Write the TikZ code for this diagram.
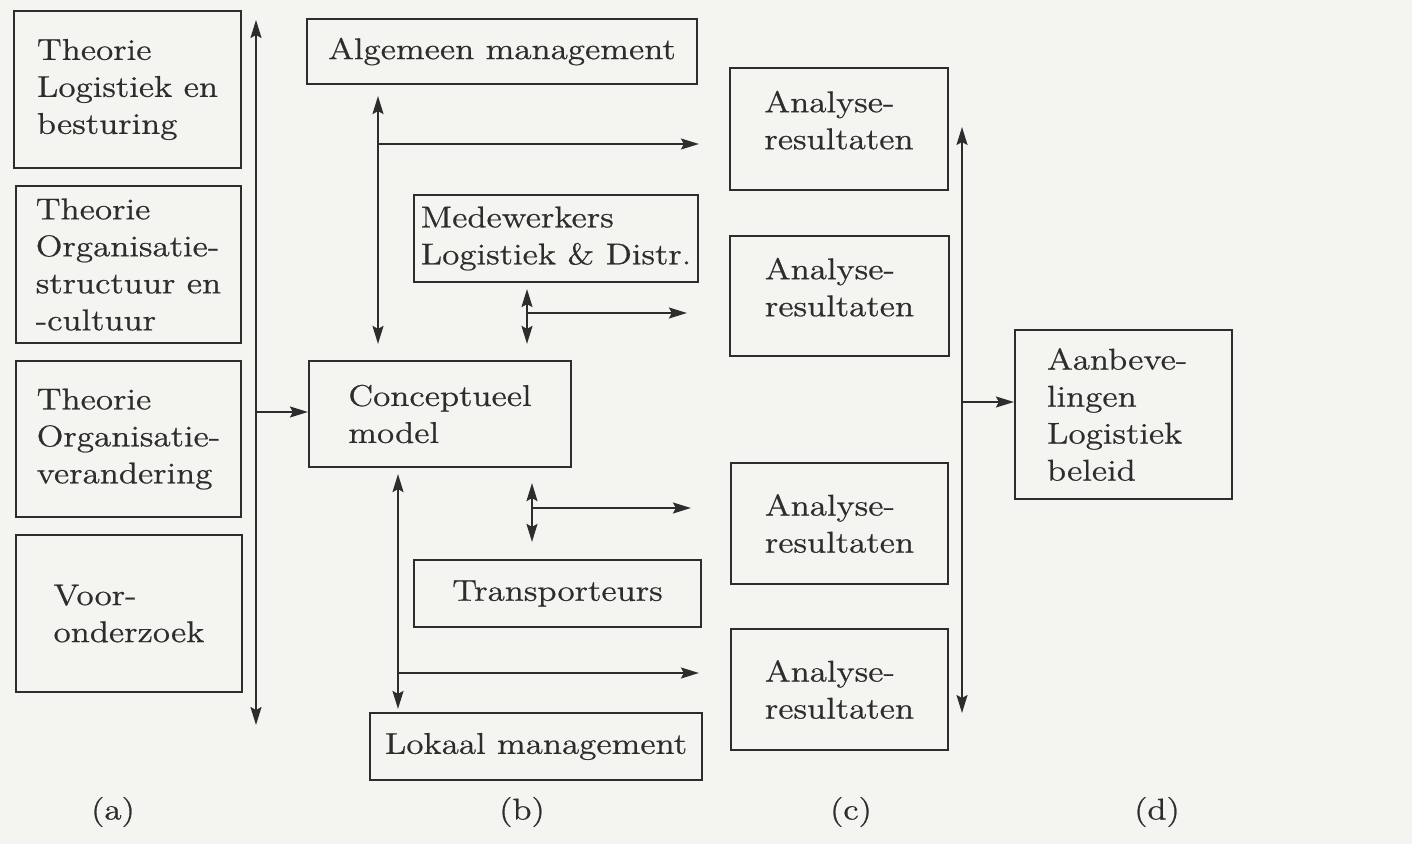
\documentclass[tikz,border=0pt]{standalone}
\usepackage{fontspec}
\newfontfamily\diagfont{lmroman12-regular.otf}[FakeStretch=1.17,FakeBold=0.7]
\usetikzlibrary{arrows.meta}
\definecolor{paper}{RGB}{244,244,240}
\definecolor{ink}{RGB}{45,45,45}
\begin{document}
\begin{tikzpicture}[x=0.5pt,y=-0.5pt,
  box/.style={draw=ink, line width=1.1pt, align=left, inner sep=0pt, text=ink,
              font=\diagfont\fontsize{15pt}{18.5pt}\selectfont},
  conn/.style={draw=ink, line width=0.9pt},
  tag/.style={text=ink, font=\diagfont\fontsize{15pt}{18.5pt}\selectfont},
  >={Stealth[length=9pt,width=5.5pt,inset=1.5pt]}]
\fill[paper] (0,0) rectangle (1412,844);
\useasboundingbox (0,0) rectangle (1412,844);

% (a) theory and preliminary study
\node[box, minimum width=113.5pt, minimum height=78.5pt] (tlog) at (127.5,89.5) {Theorie\\Logistiek en\\besturing};
\node[box, minimum width=112.5pt, minimum height=78.5pt] (tstr) at (128.5,264.5) {Theorie\\Organisatie-\\structuur en\\-cultuur};
\node[box, minimum width=112.5pt, minimum height=78pt] (tver) at (128.5,439) {Theorie\\Organisatie-\\verandering};
\node[box, minimum width=113pt, minimum height=78.5pt] (voor) at (129,613.5) {Voor-\\onderzoek};

% (b) conceptual model and interviewed groups
\node[box, minimum width=195pt, minimum height=32.5pt] (alg) at (502,51.5) {Algemeen management};
\node[box, minimum width=142pt, minimum height=43.5pt] (med) at (556,238.5) {Medewerkers\\Logistiek \& Distr.};
\node[box, minimum width=131pt, minimum height=53pt] (concept) at (440,414) {Conceptueel\\model};
\node[box, minimum width=143.5pt, minimum height=33.5pt] (trans) at (557.5,593.5) {Transporteurs};
\node[box, minimum width=166pt, minimum height=33.5pt] (lokaal) at (536,746.5) {Lokaal management};

% (c) analysis results; the upper two carry their text a little higher
\node[box, minimum width=109pt, minimum height=61pt, text depth=9pt] (an1) at (839,129) {Analyse-\\resultaten};
\node[box, minimum width=109.5pt, minimum height=60pt, text depth=9pt] (an2) at (839.5,296) {Analyse-\\resultaten};
\node[box, minimum width=108.5pt, minimum height=60.5pt] (an3) at (839.5,523.5) {Analyse-\\resultaten};
\node[box, minimum width=108.5pt, minimum height=60.5pt] (an4) at (839.5,689.5) {Analyse-\\resultaten};

% (d) recommendations, text set from a fixed left margin
\node[box, minimum width=108.5pt, minimum height=84.5pt, text width=76.5pt, inner xsep=16pt] (aanb) at (1123.5,414.5) {Aanbeve-\\lingen\\Logistiek\\beleid};

% bus (a) feeding the conceptual model
\coordinate (busAtop) at (256,20);
\coordinate (busAbot) at (256,725);
\draw[conn,<->] (busAtop) -- (busAbot);
\coordinate (busAj) at (256,412);
\draw[conn,->] (busAj) -- (concept.west |- busAj);

% interviews: general management
\coordinate (xb1) at (378,0);
\draw[conn,<->,shorten <=5.5pt,shorten >=8pt] (alg.south -| xb1) -- (concept.north -| xb1);
\coordinate (j1) at (378,144);
\draw[conn,->,shorten >=15pt] (j1) -- (an1.west |- j1);

% interviews: logistics staff
\coordinate (xb2) at (527,0);
\draw[conn,<->,shorten <=3pt,shorten >=8pt] (med.south -| xb2) -- (concept.north -| xb2);
\coordinate (j2) at (527,313);
\draw[conn,->,shorten >=21pt] (j2) -- (an2.west |- j2);

% interviews: carriers
\coordinate (xb4) at (532,0);
\draw[conn,<->,shorten <=7.5pt,shorten >=8.5pt] (concept.south -| xb4) -- (trans.north -| xb4);
\coordinate (j3) at (532,508);
\draw[conn,->,shorten >=19.5pt] (j3) -- (an3.west |- j3);

% interviews: local management
\coordinate (xb3) at (398,0);
\draw[conn,<->,shorten <=3pt,shorten >=1.5pt] (concept.south -| xb3) -- (lokaal.north -| xb3);
\coordinate (j4) at (398,673);
\draw[conn,->,shorten >=15.5pt] (j4) -- (an4.west |- j4);

% bus (c) feeding the recommendations
\coordinate (busCtop) at (962,127);
\coordinate (busCbot) at (962,713);
\draw[conn,<->] (busCtop) -- (busCbot);
\coordinate (busCj) at (962,402);
\draw[conn,->] (busCj) -- (aanb.west |- busCj);

% column labels
\node[tag] (la) at (113,812) {(a)};
\node[tag] (lb) at (522,812) {(b)};
\node[tag] (lc) at (851,812) {(c)};
\node[tag] (ld) at (1157,812) {(d)};
\end{tikzpicture}
\end{document}
